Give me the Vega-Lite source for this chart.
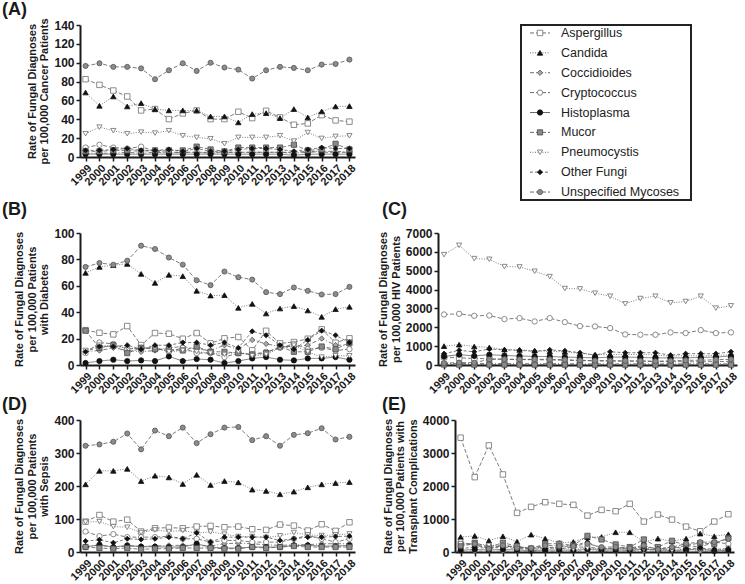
{
"$schema":"https://vega.github.io/schema/vega-lite/v6.json",
"background":"white",
"padding":{"left":2,"top":0,"right":2,"bottom":0},
"config":{
 "font":"Liberation Sans",
 "view":{"stroke":null},
 "legend":{"disable":true},
 "axis":{"grid":false,"domainColor":"#1a1a1a","domainWidth":2,"tickColor":"#1a1a1a","tickWidth":1.5,"tickSize":4,"labelFont":"Liberation Sans","labelFontWeight":"bold","labelFontSize":12,"labelColor":"#1a1a1a","labelPadding":2,"titleFont":"Liberation Sans","titleFontWeight":"bold","titleFontSize":11,"titleColor":"#1a1a1a","titleLineHeight":12.5,"titlePadding":4},
 "title":{"font":"Liberation Sans","fontSize":18,"fontWeight":"bold","color":"#1a1a1a","anchor":"start","frame":"group","offset":0}
},
"datasets":{
"A":[
{"s":"Asp","yr":1999,"v":82.5},{"s":"Asp","yr":2000,"v":76.5},{"s":"Asp","yr":2001,"v":70.5},{"s":"Asp","yr":2002,"v":64.2},{"s":"Asp","yr":2003,"v":49.4},{"s":"Asp","yr":2004,"v":50.8},{"s":"Asp","yr":2005,"v":40.2},{"s":"Asp","yr":2006,"v":46.2},{"s":"Asp","yr":2007,"v":49.4},{"s":"Asp","yr":2008,"v":40.2},{"s":"Asp","yr":2009,"v":40.2},{"s":"Asp","yr":2010,"v":48},{"s":"Asp","yr":2011,"v":41.3},{"s":"Asp","yr":2012,"v":49},{"s":"Asp","yr":2013,"v":42},{"s":"Asp","yr":2014,"v":34.2},{"s":"Asp","yr":2015,"v":35.6},{"s":"Asp","yr":2016,"v":44.4},{"s":"Asp","yr":2017,"v":38.8},{"s":"Asp","yr":2018,"v":37.5},
{"s":"Can","yr":1999,"v":68.4},{"s":"Can","yr":2000,"v":54.3},{"s":"Can","yr":2001,"v":64.2},{"s":"Can","yr":2002,"v":53.6},{"s":"Can","yr":2003,"v":57.1},{"s":"Can","yr":2004,"v":50.8},{"s":"Can","yr":2005,"v":49.4},{"s":"Can","yr":2006,"v":49.4},{"s":"Can","yr":2007,"v":49.4},{"s":"Can","yr":2008,"v":43},{"s":"Can","yr":2009,"v":43},{"s":"Can","yr":2010,"v":36.7},{"s":"Can","yr":2011,"v":45.5},{"s":"Can","yr":2012,"v":46.5},{"s":"Can","yr":2013,"v":41.3},{"s":"Can","yr":2014,"v":50.8},{"s":"Can","yr":2015,"v":42},{"s":"Can","yr":2016,"v":48.3},{"s":"Can","yr":2017,"v":53.6},{"s":"Can","yr":2018,"v":54},
{"s":"Coc","yr":1999,"v":4},{"s":"Coc","yr":2000,"v":4},{"s":"Coc","yr":2001,"v":4},{"s":"Coc","yr":2002,"v":5},{"s":"Coc","yr":2003,"v":4},{"s":"Coc","yr":2004,"v":5},{"s":"Coc","yr":2005,"v":4},{"s":"Coc","yr":2006,"v":5},{"s":"Coc","yr":2007,"v":5},{"s":"Coc","yr":2008,"v":4},{"s":"Coc","yr":2009,"v":5},{"s":"Coc","yr":2010,"v":5},{"s":"Coc","yr":2011,"v":5},{"s":"Coc","yr":2012,"v":5},{"s":"Coc","yr":2013,"v":5},{"s":"Coc","yr":2014,"v":4},{"s":"Coc","yr":2015,"v":5},{"s":"Coc","yr":2016,"v":6},{"s":"Coc","yr":2017,"v":6},{"s":"Coc","yr":2018,"v":5},
{"s":"Cry","yr":1999,"v":10},{"s":"Cry","yr":2000,"v":13},{"s":"Cry","yr":2001,"v":10},{"s":"Cry","yr":2002,"v":9},{"s":"Cry","yr":2003,"v":11},{"s":"Cry","yr":2004,"v":6},{"s":"Cry","yr":2005,"v":5},{"s":"Cry","yr":2006,"v":5},{"s":"Cry","yr":2007,"v":5},{"s":"Cry","yr":2008,"v":5},{"s":"Cry","yr":2009,"v":5},{"s":"Cry","yr":2010,"v":5},{"s":"Cry","yr":2011,"v":5},{"s":"Cry","yr":2012,"v":5},{"s":"Cry","yr":2013,"v":5},{"s":"Cry","yr":2014,"v":5},{"s":"Cry","yr":2015,"v":6},{"s":"Cry","yr":2016,"v":5},{"s":"Cry","yr":2017,"v":5},{"s":"Cry","yr":2018,"v":5},
{"s":"His","yr":1999,"v":3},{"s":"His","yr":2000,"v":3},{"s":"His","yr":2001,"v":3},{"s":"His","yr":2002,"v":3},{"s":"His","yr":2003,"v":3},{"s":"His","yr":2004,"v":3},{"s":"His","yr":2005,"v":3},{"s":"His","yr":2006,"v":3},{"s":"His","yr":2007,"v":3},{"s":"His","yr":2008,"v":3},{"s":"His","yr":2009,"v":3},{"s":"His","yr":2010,"v":3},{"s":"His","yr":2011,"v":3},{"s":"His","yr":2012,"v":3},{"s":"His","yr":2013,"v":3},{"s":"His","yr":2014,"v":2},{"s":"His","yr":2015,"v":3},{"s":"His","yr":2016,"v":3},{"s":"His","yr":2017,"v":3},{"s":"His","yr":2018,"v":3},
{"s":"Muc","yr":1999,"v":6},{"s":"Muc","yr":2000,"v":6},{"s":"Muc","yr":2001,"v":7},{"s":"Muc","yr":2002,"v":7},{"s":"Muc","yr":2003,"v":6},{"s":"Muc","yr":2004,"v":7},{"s":"Muc","yr":2005,"v":7},{"s":"Muc","yr":2006,"v":7},{"s":"Muc","yr":2007,"v":11},{"s":"Muc","yr":2008,"v":8},{"s":"Muc","yr":2009,"v":6},{"s":"Muc","yr":2010,"v":10},{"s":"Muc","yr":2011,"v":10},{"s":"Muc","yr":2012,"v":10},{"s":"Muc","yr":2013,"v":10},{"s":"Muc","yr":2014,"v":13},{"s":"Muc","yr":2015,"v":7},{"s":"Muc","yr":2016,"v":8},{"s":"Muc","yr":2017,"v":14},{"s":"Muc","yr":2018,"v":8},
{"s":"Pne","yr":1999,"v":24.7},{"s":"Pne","yr":2000,"v":31.7},{"s":"Pne","yr":2001,"v":27.9},{"s":"Pne","yr":2002,"v":24.7},{"s":"Pne","yr":2003,"v":26.4},{"s":"Pne","yr":2004,"v":25.4},{"s":"Pne","yr":2005,"v":27.9},{"s":"Pne","yr":2006,"v":22.6},{"s":"Pne","yr":2007,"v":20.8},{"s":"Pne","yr":2008,"v":19.4},{"s":"Pne","yr":2009,"v":14.1},{"s":"Pne","yr":2010,"v":20.8},{"s":"Pne","yr":2011,"v":20.8},{"s":"Pne","yr":2012,"v":20.8},{"s":"Pne","yr":2013,"v":22.6},{"s":"Pne","yr":2014,"v":16.9},{"s":"Pne","yr":2015,"v":26},{"s":"Pne","yr":2016,"v":19.7},{"s":"Pne","yr":2017,"v":21.9},{"s":"Pne","yr":2018,"v":22.5},
{"s":"Oth","yr":1999,"v":7},{"s":"Oth","yr":2000,"v":7},{"s":"Oth","yr":2001,"v":8},{"s":"Oth","yr":2002,"v":9},{"s":"Oth","yr":2003,"v":7},{"s":"Oth","yr":2004,"v":7},{"s":"Oth","yr":2005,"v":8},{"s":"Oth","yr":2006,"v":6},{"s":"Oth","yr":2007,"v":9},{"s":"Oth","yr":2008,"v":6},{"s":"Oth","yr":2009,"v":6},{"s":"Oth","yr":2010,"v":8},{"s":"Oth","yr":2011,"v":9},{"s":"Oth","yr":2012,"v":9},{"s":"Oth","yr":2013,"v":8},{"s":"Oth","yr":2014,"v":6},{"s":"Oth","yr":2015,"v":8},{"s":"Oth","yr":2016,"v":10},{"s":"Oth","yr":2017,"v":9},{"s":"Oth","yr":2018,"v":9},
{"s":"Uns","yr":1999,"v":96.6},{"s":"Uns","yr":2000,"v":99.4},{"s":"Uns","yr":2001,"v":95.6},{"s":"Uns","yr":2002,"v":95.6},{"s":"Uns","yr":2003,"v":94},{"s":"Uns","yr":2004,"v":82.5},{"s":"Uns","yr":2005,"v":92},{"s":"Uns","yr":2006,"v":99.4},{"s":"Uns","yr":2007,"v":91.3},{"s":"Uns","yr":2008,"v":100},{"s":"Uns","yr":2009,"v":94.9},{"s":"Uns","yr":2010,"v":92.7},{"s":"Uns","yr":2011,"v":83.2},{"s":"Uns","yr":2012,"v":92},{"s":"Uns","yr":2013,"v":95.6},{"s":"Uns","yr":2014,"v":94.5},{"s":"Uns","yr":2015,"v":92},{"s":"Uns","yr":2016,"v":98},{"s":"Uns","yr":2017,"v":98.7},{"s":"Uns","yr":2018,"v":103.3}
],
"B":[
{"s":"Asp","yr":1999,"v":26.4},{"s":"Asp","yr":2000,"v":24.4},{"s":"Asp","yr":2001,"v":23.2},{"s":"Asp","yr":2002,"v":29.5},{"s":"Asp","yr":2003,"v":15.1},{"s":"Asp","yr":2004,"v":24.2},{"s":"Asp","yr":2005,"v":23.7},{"s":"Asp","yr":2006,"v":19.9},{"s":"Asp","yr":2007,"v":24.2},{"s":"Asp","yr":2008,"v":16.4},{"s":"Asp","yr":2009,"v":20.2},{"s":"Asp","yr":2010,"v":21.2},{"s":"Asp","yr":2011,"v":11.1},{"s":"Asp","yr":2012,"v":25.9},{"s":"Asp","yr":2013,"v":16.4},{"s":"Asp","yr":2014,"v":17.4},{"s":"Asp","yr":2015,"v":19.9},{"s":"Asp","yr":2016,"v":27},{"s":"Asp","yr":2017,"v":16.9},{"s":"Asp","yr":2018,"v":20.2},
{"s":"Can","yr":1999,"v":69.8},{"s":"Can","yr":2000,"v":74.3},{"s":"Can","yr":2001,"v":75.6},{"s":"Can","yr":2002,"v":76.6},{"s":"Can","yr":2003,"v":69},{"s":"Can","yr":2004,"v":62.2},{"s":"Can","yr":2005,"v":68.3},{"s":"Can","yr":2006,"v":67.3},{"s":"Can","yr":2007,"v":56.2},{"s":"Can","yr":2008,"v":52.6},{"s":"Can","yr":2009,"v":52.9},{"s":"Can","yr":2010,"v":43.3},{"s":"Can","yr":2011,"v":46.3},{"s":"Can","yr":2012,"v":39},{"s":"Can","yr":2013,"v":42.8},{"s":"Can","yr":2014,"v":44.6},{"s":"Can","yr":2015,"v":41.3},{"s":"Can","yr":2016,"v":36.5},{"s":"Can","yr":2017,"v":42.3},{"s":"Can","yr":2018,"v":44.1},
{"s":"Coc","yr":1999,"v":10},{"s":"Coc","yr":2000,"v":11},{"s":"Coc","yr":2001,"v":13},{"s":"Coc","yr":2002,"v":11},{"s":"Coc","yr":2003,"v":10},{"s":"Coc","yr":2004,"v":11},{"s":"Coc","yr":2005,"v":13},{"s":"Coc","yr":2006,"v":14},{"s":"Coc","yr":2007,"v":12},{"s":"Coc","yr":2008,"v":11},{"s":"Coc","yr":2009,"v":15},{"s":"Coc","yr":2010,"v":12},{"s":"Coc","yr":2011,"v":19},{"s":"Coc","yr":2012,"v":16},{"s":"Coc","yr":2013,"v":14},{"s":"Coc","yr":2014,"v":14},{"s":"Coc","yr":2015,"v":15},{"s":"Coc","yr":2016,"v":20},{"s":"Coc","yr":2017,"v":15},{"s":"Coc","yr":2018,"v":15},
{"s":"Cry","yr":1999,"v":9},{"s":"Cry","yr":2000,"v":17},{"s":"Cry","yr":2001,"v":16},{"s":"Cry","yr":2002,"v":12},{"s":"Cry","yr":2003,"v":13},{"s":"Cry","yr":2004,"v":13},{"s":"Cry","yr":2005,"v":10},{"s":"Cry","yr":2006,"v":13},{"s":"Cry","yr":2007,"v":9},{"s":"Cry","yr":2008,"v":9},{"s":"Cry","yr":2009,"v":6},{"s":"Cry","yr":2010,"v":9},{"s":"Cry","yr":2011,"v":8},{"s":"Cry","yr":2012,"v":10},{"s":"Cry","yr":2013,"v":13},{"s":"Cry","yr":2014,"v":16},{"s":"Cry","yr":2015,"v":12},{"s":"Cry","yr":2016,"v":13},{"s":"Cry","yr":2017,"v":11},{"s":"Cry","yr":2018,"v":12},
{"s":"His","yr":1999,"v":1.5},{"s":"His","yr":2000,"v":3},{"s":"His","yr":2001,"v":4},{"s":"His","yr":2002,"v":3},{"s":"His","yr":2003,"v":3.5},{"s":"His","yr":2004,"v":3},{"s":"His","yr":2005,"v":6.5},{"s":"His","yr":2006,"v":3},{"s":"His","yr":2007,"v":4.5},{"s":"His","yr":2008,"v":4},{"s":"His","yr":2009,"v":1.5},{"s":"His","yr":2010,"v":3},{"s":"His","yr":2011,"v":5},{"s":"His","yr":2012,"v":6},{"s":"His","yr":2013,"v":4},{"s":"His","yr":2014,"v":3.5},{"s":"His","yr":2015,"v":5},{"s":"His","yr":2016,"v":5},{"s":"His","yr":2017,"v":6},{"s":"His","yr":2018,"v":4},
{"s":"Muc","yr":1999,"v":26},{"s":"Muc","yr":2000,"v":13},{"s":"Muc","yr":2001,"v":15},{"s":"Muc","yr":2002,"v":9},{"s":"Muc","yr":2003,"v":13},{"s":"Muc","yr":2004,"v":12},{"s":"Muc","yr":2005,"v":12},{"s":"Muc","yr":2006,"v":11},{"s":"Muc","yr":2007,"v":14},{"s":"Muc","yr":2008,"v":10},{"s":"Muc","yr":2009,"v":10},{"s":"Muc","yr":2010,"v":9},{"s":"Muc","yr":2011,"v":8},{"s":"Muc","yr":2012,"v":9},{"s":"Muc","yr":2013,"v":14},{"s":"Muc","yr":2014,"v":10},{"s":"Muc","yr":2015,"v":10},{"s":"Muc","yr":2016,"v":14},{"s":"Muc","yr":2017,"v":12},{"s":"Muc","yr":2018,"v":17},
{"s":"Pne","yr":1999,"v":11},{"s":"Pne","yr":2000,"v":15},{"s":"Pne","yr":2001,"v":14},{"s":"Pne","yr":2002,"v":13},{"s":"Pne","yr":2003,"v":12},{"s":"Pne","yr":2004,"v":13},{"s":"Pne","yr":2005,"v":10},{"s":"Pne","yr":2006,"v":11},{"s":"Pne","yr":2007,"v":10},{"s":"Pne","yr":2008,"v":9},{"s":"Pne","yr":2009,"v":8},{"s":"Pne","yr":2010,"v":10},{"s":"Pne","yr":2011,"v":7},{"s":"Pne","yr":2012,"v":8},{"s":"Pne","yr":2013,"v":13},{"s":"Pne","yr":2014,"v":15},{"s":"Pne","yr":2015,"v":10},{"s":"Pne","yr":2016,"v":6},{"s":"Pne","yr":2017,"v":7},{"s":"Pne","yr":2018,"v":7},
{"s":"Oth","yr":1999,"v":10},{"s":"Oth","yr":2000,"v":14},{"s":"Oth","yr":2001,"v":14},{"s":"Oth","yr":2002,"v":15},{"s":"Oth","yr":2003,"v":12},{"s":"Oth","yr":2004,"v":15},{"s":"Oth","yr":2005,"v":15},{"s":"Oth","yr":2006,"v":17},{"s":"Oth","yr":2007,"v":17},{"s":"Oth","yr":2008,"v":15},{"s":"Oth","yr":2009,"v":17},{"s":"Oth","yr":2010,"v":13},{"s":"Oth","yr":2011,"v":25.5},{"s":"Oth","yr":2012,"v":22.5},{"s":"Oth","yr":2013,"v":15},{"s":"Oth","yr":2014,"v":12},{"s":"Oth","yr":2015,"v":19},{"s":"Oth","yr":2016,"v":26},{"s":"Oth","yr":2017,"v":22.5},{"s":"Oth","yr":2018,"v":17},
{"s":"Uns","yr":1999,"v":74.3},{"s":"Uns","yr":2000,"v":77.3},{"s":"Uns","yr":2001,"v":76},{"s":"Uns","yr":2002,"v":79},{"s":"Uns","yr":2003,"v":90.4},{"s":"Uns","yr":2004,"v":87.9},{"s":"Uns","yr":2005,"v":81.4},{"s":"Uns","yr":2006,"v":76},{"s":"Uns","yr":2007,"v":64.2},{"s":"Uns","yr":2008,"v":60.5},{"s":"Uns","yr":2009,"v":70.8},{"s":"Uns","yr":2010,"v":66.5},{"s":"Uns","yr":2011,"v":64.7},{"s":"Uns","yr":2012,"v":55.2},{"s":"Uns","yr":2013,"v":53.7},{"s":"Uns","yr":2014,"v":58.7},{"s":"Uns","yr":2015,"v":56.2},{"s":"Uns","yr":2016,"v":53.4},{"s":"Uns","yr":2017,"v":53.7},{"s":"Uns","yr":2018,"v":59.2}
],
"C":[
{"s":"Asp","yr":1999,"v":420},{"s":"Asp","yr":2000,"v":380},{"s":"Asp","yr":2001,"v":350},{"s":"Asp","yr":2002,"v":330},{"s":"Asp","yr":2003,"v":300},{"s":"Asp","yr":2004,"v":290},{"s":"Asp","yr":2005,"v":280},{"s":"Asp","yr":2006,"v":270},{"s":"Asp","yr":2007,"v":250},{"s":"Asp","yr":2008,"v":230},{"s":"Asp","yr":2009,"v":220},{"s":"Asp","yr":2010,"v":210},{"s":"Asp","yr":2011,"v":200},{"s":"Asp","yr":2012,"v":200},{"s":"Asp","yr":2013,"v":180},{"s":"Asp","yr":2014,"v":180},{"s":"Asp","yr":2015,"v":170},{"s":"Asp","yr":2016,"v":170},{"s":"Asp","yr":2017,"v":180},{"s":"Asp","yr":2018,"v":180},
{"s":"Can","yr":1999,"v":1000},{"s":"Can","yr":2000,"v":1080},{"s":"Can","yr":2001,"v":980},{"s":"Can","yr":2002,"v":930},{"s":"Can","yr":2003,"v":820},{"s":"Can","yr":2004,"v":800},{"s":"Can","yr":2005,"v":760},{"s":"Can","yr":2006,"v":720},{"s":"Can","yr":2007,"v":700},{"s":"Can","yr":2008,"v":620},{"s":"Can","yr":2009,"v":540},{"s":"Can","yr":2010,"v":560},{"s":"Can","yr":2011,"v":560},{"s":"Can","yr":2012,"v":560},{"s":"Can","yr":2013,"v":530},{"s":"Can","yr":2014,"v":470},{"s":"Can","yr":2015,"v":500},{"s":"Can","yr":2016,"v":470},{"s":"Can","yr":2017,"v":520},{"s":"Can","yr":2018,"v":520},
{"s":"Coc","yr":1999,"v":80},{"s":"Coc","yr":2000,"v":80},{"s":"Coc","yr":2001,"v":80},{"s":"Coc","yr":2002,"v":80},{"s":"Coc","yr":2003,"v":80},{"s":"Coc","yr":2004,"v":70},{"s":"Coc","yr":2005,"v":70},{"s":"Coc","yr":2006,"v":70},{"s":"Coc","yr":2007,"v":70},{"s":"Coc","yr":2008,"v":60},{"s":"Coc","yr":2009,"v":60},{"s":"Coc","yr":2010,"v":60},{"s":"Coc","yr":2011,"v":60},{"s":"Coc","yr":2012,"v":60},{"s":"Coc","yr":2013,"v":60},{"s":"Coc","yr":2014,"v":60},{"s":"Coc","yr":2015,"v":60},{"s":"Coc","yr":2016,"v":60},{"s":"Coc","yr":2017,"v":60},{"s":"Coc","yr":2018,"v":60},
{"s":"Cry","yr":1999,"v":2680},{"s":"Cry","yr":2000,"v":2715},{"s":"Cry","yr":2001,"v":2609},{"s":"Cry","yr":2002,"v":2627},{"s":"Cry","yr":2003,"v":2433},{"s":"Cry","yr":2004,"v":2486},{"s":"Cry","yr":2005,"v":2310},{"s":"Cry","yr":2006,"v":2486},{"s":"Cry","yr":2007,"v":2274},{"s":"Cry","yr":2008,"v":2063},{"s":"Cry","yr":2009,"v":2045},{"s":"Cry","yr":2010,"v":1957},{"s":"Cry","yr":2011,"v":1622},{"s":"Cry","yr":2012,"v":1604},{"s":"Cry","yr":2013,"v":1604},{"s":"Cry","yr":2014,"v":1728},{"s":"Cry","yr":2015,"v":1692},{"s":"Cry","yr":2016,"v":1851},{"s":"Cry","yr":2017,"v":1692},{"s":"Cry","yr":2018,"v":1728},
{"s":"His","yr":1999,"v":450},{"s":"His","yr":2000,"v":550},{"s":"His","yr":2001,"v":480},{"s":"His","yr":2002,"v":550},{"s":"His","yr":2003,"v":500},{"s":"His","yr":2004,"v":480},{"s":"His","yr":2005,"v":450},{"s":"His","yr":2006,"v":450},{"s":"His","yr":2007,"v":420},{"s":"His","yr":2008,"v":400},{"s":"His","yr":2009,"v":380},{"s":"His","yr":2010,"v":420},{"s":"His","yr":2011,"v":420},{"s":"His","yr":2012,"v":400},{"s":"His","yr":2013,"v":380},{"s":"His","yr":2014,"v":380},{"s":"His","yr":2015,"v":380},{"s":"His","yr":2016,"v":400},{"s":"His","yr":2017,"v":420},{"s":"His","yr":2018,"v":480},
{"s":"Muc","yr":1999,"v":25},{"s":"Muc","yr":2000,"v":22},{"s":"Muc","yr":2001,"v":20},{"s":"Muc","yr":2002,"v":22},{"s":"Muc","yr":2003,"v":20},{"s":"Muc","yr":2004,"v":18},{"s":"Muc","yr":2005,"v":20},{"s":"Muc","yr":2006,"v":18},{"s":"Muc","yr":2007,"v":18},{"s":"Muc","yr":2008,"v":17},{"s":"Muc","yr":2009,"v":16},{"s":"Muc","yr":2010,"v":18},{"s":"Muc","yr":2011,"v":17},{"s":"Muc","yr":2012,"v":16},{"s":"Muc","yr":2013,"v":15},{"s":"Muc","yr":2014,"v":16},{"s":"Muc","yr":2015,"v":15},{"s":"Muc","yr":2016,"v":17},{"s":"Muc","yr":2017,"v":16},{"s":"Muc","yr":2018,"v":18},
{"s":"Pne","yr":1999,"v":5853},{"s":"Pne","yr":2000,"v":6347},{"s":"Pne","yr":2001,"v":5642},{"s":"Pne","yr":2002,"v":5606},{"s":"Pne","yr":2003,"v":5218},{"s":"Pne","yr":2004,"v":5201},{"s":"Pne","yr":2005,"v":4972},{"s":"Pne","yr":2006,"v":4690},{"s":"Pne","yr":2007,"v":4055},{"s":"Pne","yr":2008,"v":4037},{"s":"Pne","yr":2009,"v":3808},{"s":"Pne","yr":2010,"v":3649},{"s":"Pne","yr":2011,"v":3244},{"s":"Pne","yr":2012,"v":3526},{"s":"Pne","yr":2013,"v":3649},{"s":"Pne","yr":2014,"v":3297},{"s":"Pne","yr":2015,"v":3367},{"s":"Pne","yr":2016,"v":3649},{"s":"Pne","yr":2017,"v":3015},{"s":"Pne","yr":2018,"v":3138},
{"s":"Oth","yr":1999,"v":600},{"s":"Oth","yr":2000,"v":780},{"s":"Oth","yr":2001,"v":700},{"s":"Oth","yr":2002,"v":850},{"s":"Oth","yr":2003,"v":800},{"s":"Oth","yr":2004,"v":780},{"s":"Oth","yr":2005,"v":720},{"s":"Oth","yr":2006,"v":800},{"s":"Oth","yr":2007,"v":750},{"s":"Oth","yr":2008,"v":650},{"s":"Oth","yr":2009,"v":520},{"s":"Oth","yr":2010,"v":700},{"s":"Oth","yr":2011,"v":650},{"s":"Oth","yr":2012,"v":650},{"s":"Oth","yr":2013,"v":650},{"s":"Oth","yr":2014,"v":520},{"s":"Oth","yr":2015,"v":600},{"s":"Oth","yr":2016,"v":600},{"s":"Oth","yr":2017,"v":600},{"s":"Oth","yr":2018,"v":700},
{"s":"Uns","yr":1999,"v":100},{"s":"Uns","yr":2000,"v":130},{"s":"Uns","yr":2001,"v":120},{"s":"Uns","yr":2002,"v":300},{"s":"Uns","yr":2003,"v":310},{"s":"Uns","yr":2004,"v":300},{"s":"Uns","yr":2005,"v":300},{"s":"Uns","yr":2006,"v":300},{"s":"Uns","yr":2007,"v":280},{"s":"Uns","yr":2008,"v":250},{"s":"Uns","yr":2009,"v":230},{"s":"Uns","yr":2010,"v":230},{"s":"Uns","yr":2011,"v":220},{"s":"Uns","yr":2012,"v":220},{"s":"Uns","yr":2013,"v":200},{"s":"Uns","yr":2014,"v":220},{"s":"Uns","yr":2015,"v":250},{"s":"Uns","yr":2016,"v":250},{"s":"Uns","yr":2017,"v":280},{"s":"Uns","yr":2018,"v":300}
],
"D":[
{"s":"Asp","yr":1999,"v":92},{"s":"Asp","yr":2000,"v":112},{"s":"Asp","yr":2001,"v":92},{"s":"Asp","yr":2002,"v":98},{"s":"Asp","yr":2003,"v":62},{"s":"Asp","yr":2004,"v":72},{"s":"Asp","yr":2005,"v":74},{"s":"Asp","yr":2006,"v":72},{"s":"Asp","yr":2007,"v":77},{"s":"Asp","yr":2008,"v":79},{"s":"Asp","yr":2009,"v":75},{"s":"Asp","yr":2010,"v":77},{"s":"Asp","yr":2011,"v":69},{"s":"Asp","yr":2012,"v":67},{"s":"Asp","yr":2013,"v":83},{"s":"Asp","yr":2014,"v":80},{"s":"Asp","yr":2015,"v":65},{"s":"Asp","yr":2016,"v":84},{"s":"Asp","yr":2017,"v":64},{"s":"Asp","yr":2018,"v":90},
{"s":"Can","yr":1999,"v":205},{"s":"Can","yr":2000,"v":246},{"s":"Can","yr":2001,"v":246},{"s":"Can","yr":2002,"v":252},{"s":"Can","yr":2003,"v":215},{"s":"Can","yr":2004,"v":231},{"s":"Can","yr":2005,"v":226},{"s":"Can","yr":2006,"v":206},{"s":"Can","yr":2007,"v":234},{"s":"Can","yr":2008,"v":203},{"s":"Can","yr":2009,"v":215},{"s":"Can","yr":2010,"v":211},{"s":"Can","yr":2011,"v":189},{"s":"Can","yr":2012,"v":185},{"s":"Can","yr":2013,"v":175},{"s":"Can","yr":2014,"v":183},{"s":"Can","yr":2015,"v":196},{"s":"Can","yr":2016,"v":205},{"s":"Can","yr":2017,"v":209},{"s":"Can","yr":2018,"v":212},
{"s":"Coc","yr":1999,"v":17},{"s":"Coc","yr":2000,"v":20},{"s":"Coc","yr":2001,"v":15},{"s":"Coc","yr":2002,"v":18},{"s":"Coc","yr":2003,"v":18},{"s":"Coc","yr":2004,"v":18},{"s":"Coc","yr":2005,"v":20},{"s":"Coc","yr":2006,"v":20},{"s":"Coc","yr":2007,"v":20},{"s":"Coc","yr":2008,"v":18},{"s":"Coc","yr":2009,"v":25},{"s":"Coc","yr":2010,"v":27},{"s":"Coc","yr":2011,"v":25},{"s":"Coc","yr":2012,"v":22},{"s":"Coc","yr":2013,"v":20},{"s":"Coc","yr":2014,"v":22},{"s":"Coc","yr":2015,"v":22},{"s":"Coc","yr":2016,"v":25},{"s":"Coc","yr":2017,"v":25},{"s":"Coc","yr":2018,"v":25},
{"s":"Cry","yr":1999,"v":62},{"s":"Cry","yr":2000,"v":48},{"s":"Cry","yr":2001,"v":54},{"s":"Cry","yr":2002,"v":45},{"s":"Cry","yr":2003,"v":45},{"s":"Cry","yr":2004,"v":45},{"s":"Cry","yr":2005,"v":48},{"s":"Cry","yr":2006,"v":40},{"s":"Cry","yr":2007,"v":40},{"s":"Cry","yr":2008,"v":30},{"s":"Cry","yr":2009,"v":35},{"s":"Cry","yr":2010,"v":35},{"s":"Cry","yr":2011,"v":30},{"s":"Cry","yr":2012,"v":30},{"s":"Cry","yr":2013,"v":30},{"s":"Cry","yr":2014,"v":40},{"s":"Cry","yr":2015,"v":50},{"s":"Cry","yr":2016,"v":40},{"s":"Cry","yr":2017,"v":30},{"s":"Cry","yr":2018,"v":40},
{"s":"His","yr":1999,"v":15},{"s":"His","yr":2000,"v":22},{"s":"His","yr":2001,"v":15},{"s":"His","yr":2002,"v":20},{"s":"His","yr":2003,"v":16},{"s":"His","yr":2004,"v":16},{"s":"His","yr":2005,"v":15},{"s":"His","yr":2006,"v":15},{"s":"His","yr":2007,"v":25},{"s":"His","yr":2008,"v":15},{"s":"His","yr":2009,"v":12},{"s":"His","yr":2010,"v":12},{"s":"His","yr":2011,"v":15},{"s":"His","yr":2012,"v":15},{"s":"His","yr":2013,"v":15},{"s":"His","yr":2014,"v":20},{"s":"His","yr":2015,"v":20},{"s":"His","yr":2016,"v":18},{"s":"His","yr":2017,"v":18},{"s":"His","yr":2018,"v":20},
{"s":"Muc","yr":1999,"v":15},{"s":"Muc","yr":2000,"v":12},{"s":"Muc","yr":2001,"v":10},{"s":"Muc","yr":2002,"v":12},{"s":"Muc","yr":2003,"v":8},{"s":"Muc","yr":2004,"v":10},{"s":"Muc","yr":2005,"v":10},{"s":"Muc","yr":2006,"v":12},{"s":"Muc","yr":2007,"v":12},{"s":"Muc","yr":2008,"v":12},{"s":"Muc","yr":2009,"v":10},{"s":"Muc","yr":2010,"v":10},{"s":"Muc","yr":2011,"v":15},{"s":"Muc","yr":2012,"v":12},{"s":"Muc","yr":2013,"v":15},{"s":"Muc","yr":2014,"v":18},{"s":"Muc","yr":2015,"v":15},{"s":"Muc","yr":2016,"v":15},{"s":"Muc","yr":2017,"v":15},{"s":"Muc","yr":2018,"v":15},
{"s":"Pne","yr":1999,"v":91},{"s":"Pne","yr":2000,"v":92},{"s":"Pne","yr":2001,"v":77},{"s":"Pne","yr":2002,"v":75},{"s":"Pne","yr":2003,"v":59},{"s":"Pne","yr":2004,"v":67},{"s":"Pne","yr":2005,"v":62},{"s":"Pne","yr":2006,"v":65},{"s":"Pne","yr":2007,"v":57},{"s":"Pne","yr":2008,"v":61},{"s":"Pne","yr":2009,"v":54},{"s":"Pne","yr":2010,"v":47},{"s":"Pne","yr":2011,"v":47},{"s":"Pne","yr":2012,"v":44},{"s":"Pne","yr":2013,"v":49},{"s":"Pne","yr":2014,"v":59},{"s":"Pne","yr":2015,"v":52},{"s":"Pne","yr":2016,"v":50},{"s":"Pne","yr":2017,"v":52},{"s":"Pne","yr":2018,"v":55},
{"s":"Oth","yr":1999,"v":33},{"s":"Oth","yr":2000,"v":37},{"s":"Oth","yr":2001,"v":28},{"s":"Oth","yr":2002,"v":40},{"s":"Oth","yr":2003,"v":38},{"s":"Oth","yr":2004,"v":40},{"s":"Oth","yr":2005,"v":45},{"s":"Oth","yr":2006,"v":40},{"s":"Oth","yr":2007,"v":58},{"s":"Oth","yr":2008,"v":30},{"s":"Oth","yr":2009,"v":45},{"s":"Oth","yr":2010,"v":45},{"s":"Oth","yr":2011,"v":45},{"s":"Oth","yr":2012,"v":45},{"s":"Oth","yr":2013,"v":35},{"s":"Oth","yr":2014,"v":40},{"s":"Oth","yr":2015,"v":45},{"s":"Oth","yr":2016,"v":45},{"s":"Oth","yr":2017,"v":47},{"s":"Oth","yr":2018,"v":48},
{"s":"Uns","yr":1999,"v":322},{"s":"Uns","yr":2000,"v":326},{"s":"Uns","yr":2001,"v":334},{"s":"Uns","yr":2002,"v":359},{"s":"Uns","yr":2003,"v":311},{"s":"Uns","yr":2004,"v":368},{"s":"Uns","yr":2005,"v":351},{"s":"Uns","yr":2006,"v":377},{"s":"Uns","yr":2007,"v":330},{"s":"Uns","yr":2008,"v":357},{"s":"Uns","yr":2009,"v":377},{"s":"Uns","yr":2010,"v":379},{"s":"Uns","yr":2011,"v":339},{"s":"Uns","yr":2012,"v":351},{"s":"Uns","yr":2013,"v":322},{"s":"Uns","yr":2014,"v":355},{"s":"Uns","yr":2015,"v":360},{"s":"Uns","yr":2016,"v":375},{"s":"Uns","yr":2017,"v":341},{"s":"Uns","yr":2018,"v":349}
],
"E":[
{"s":"Asp","yr":1999,"v":3464},{"s":"Asp","yr":2000,"v":2269},{"s":"Asp","yr":2001,"v":3231},{"s":"Asp","yr":2002,"v":2350},{"s":"Asp","yr":2003,"v":1185},{"s":"Asp","yr":2004,"v":1367},{"s":"Asp","yr":2005,"v":1509},{"s":"Asp","yr":2006,"v":1459},{"s":"Asp","yr":2007,"v":1428},{"s":"Asp","yr":2008,"v":1104},{"s":"Asp","yr":2009,"v":1276},{"s":"Asp","yr":2010,"v":1236},{"s":"Asp","yr":2011,"v":1459},{"s":"Asp","yr":2012,"v":922},{"s":"Asp","yr":2013,"v":1135},{"s":"Asp","yr":2014,"v":982},{"s":"Asp","yr":2015,"v":770},{"s":"Asp","yr":2016,"v":628},{"s":"Asp","yr":2017,"v":922},{"s":"Asp","yr":2018,"v":1145},
{"s":"Can","yr":1999,"v":456},{"s":"Can","yr":2000,"v":486},{"s":"Can","yr":2001,"v":344},{"s":"Can","yr":2002,"v":476},{"s":"Can","yr":2003,"v":314},{"s":"Can","yr":2004,"v":527},{"s":"Can","yr":2005,"v":405},{"s":"Can","yr":2006,"v":273},{"s":"Can","yr":2007,"v":304},{"s":"Can","yr":2008,"v":446},{"s":"Can","yr":2009,"v":456},{"s":"Can","yr":2010,"v":598},{"s":"Can","yr":2011,"v":598},{"s":"Can","yr":2012,"v":304},{"s":"Can","yr":2013,"v":405},{"s":"Can","yr":2014,"v":324},{"s":"Can","yr":2015,"v":405},{"s":"Can","yr":2016,"v":557},{"s":"Can","yr":2017,"v":476},{"s":"Can","yr":2018,"v":537},
{"s":"Coc","yr":1999,"v":20},{"s":"Coc","yr":2000,"v":30},{"s":"Coc","yr":2001,"v":20},{"s":"Coc","yr":2002,"v":30},{"s":"Coc","yr":2003,"v":20},{"s":"Coc","yr":2004,"v":20},{"s":"Coc","yr":2005,"v":30},{"s":"Coc","yr":2006,"v":20},{"s":"Coc","yr":2007,"v":20},{"s":"Coc","yr":2008,"v":30},{"s":"Coc","yr":2009,"v":20},{"s":"Coc","yr":2010,"v":20},{"s":"Coc","yr":2011,"v":30},{"s":"Coc","yr":2012,"v":30},{"s":"Coc","yr":2013,"v":20},{"s":"Coc","yr":2014,"v":20},{"s":"Coc","yr":2015,"v":30},{"s":"Coc","yr":2016,"v":20},{"s":"Coc","yr":2017,"v":20},{"s":"Coc","yr":2018,"v":30},
{"s":"Cry","yr":1999,"v":300},{"s":"Cry","yr":2000,"v":200},{"s":"Cry","yr":2001,"v":130},{"s":"Cry","yr":2002,"v":200},{"s":"Cry","yr":2003,"v":150},{"s":"Cry","yr":2004,"v":100},{"s":"Cry","yr":2005,"v":150},{"s":"Cry","yr":2006,"v":100},{"s":"Cry","yr":2007,"v":150},{"s":"Cry","yr":2008,"v":150},{"s":"Cry","yr":2009,"v":100},{"s":"Cry","yr":2010,"v":100},{"s":"Cry","yr":2011,"v":100},{"s":"Cry","yr":2012,"v":100},{"s":"Cry","yr":2013,"v":80},{"s":"Cry","yr":2014,"v":100},{"s":"Cry","yr":2015,"v":200},{"s":"Cry","yr":2016,"v":150},{"s":"Cry","yr":2017,"v":300},{"s":"Cry","yr":2018,"v":250},
{"s":"His","yr":1999,"v":50},{"s":"His","yr":2000,"v":80},{"s":"His","yr":2001,"v":60},{"s":"His","yr":2002,"v":80},{"s":"His","yr":2003,"v":60},{"s":"His","yr":2004,"v":40},{"s":"His","yr":2005,"v":60},{"s":"His","yr":2006,"v":60},{"s":"His","yr":2007,"v":50},{"s":"His","yr":2008,"v":80},{"s":"His","yr":2009,"v":60},{"s":"His","yr":2010,"v":60},{"s":"His","yr":2011,"v":50},{"s":"His","yr":2012,"v":80},{"s":"His","yr":2013,"v":60},{"s":"His","yr":2014,"v":50},{"s":"His","yr":2015,"v":60},{"s":"His","yr":2016,"v":100},{"s":"His","yr":2017,"v":30},{"s":"His","yr":2018,"v":60},
{"s":"Muc","yr":1999,"v":200},{"s":"Muc","yr":2000,"v":280},{"s":"Muc","yr":2001,"v":150},{"s":"Muc","yr":2002,"v":280},{"s":"Muc","yr":2003,"v":180},{"s":"Muc","yr":2004,"v":100},{"s":"Muc","yr":2005,"v":250},{"s":"Muc","yr":2006,"v":250},{"s":"Muc","yr":2007,"v":200},{"s":"Muc","yr":2008,"v":490},{"s":"Muc","yr":2009,"v":380},{"s":"Muc","yr":2010,"v":230},{"s":"Muc","yr":2011,"v":150},{"s":"Muc","yr":2012,"v":380},{"s":"Muc","yr":2013,"v":150},{"s":"Muc","yr":2014,"v":340},{"s":"Muc","yr":2015,"v":200},{"s":"Muc","yr":2016,"v":270},{"s":"Muc","yr":2017,"v":250},{"s":"Muc","yr":2018,"v":420},
{"s":"Pne","yr":1999,"v":250},{"s":"Pne","yr":2000,"v":250},{"s":"Pne","yr":2001,"v":200},{"s":"Pne","yr":2002,"v":200},{"s":"Pne","yr":2003,"v":150},{"s":"Pne","yr":2004,"v":120},{"s":"Pne","yr":2005,"v":120},{"s":"Pne","yr":2006,"v":120},{"s":"Pne","yr":2007,"v":80},{"s":"Pne","yr":2008,"v":120},{"s":"Pne","yr":2009,"v":80},{"s":"Pne","yr":2010,"v":100},{"s":"Pne","yr":2011,"v":80},{"s":"Pne","yr":2012,"v":80},{"s":"Pne","yr":2013,"v":60},{"s":"Pne","yr":2014,"v":50},{"s":"Pne","yr":2015,"v":80},{"s":"Pne","yr":2016,"v":50},{"s":"Pne","yr":2017,"v":60},{"s":"Pne","yr":2018,"v":100},
{"s":"Oth","yr":1999,"v":100},{"s":"Oth","yr":2000,"v":150},{"s":"Oth","yr":2001,"v":100},{"s":"Oth","yr":2002,"v":150},{"s":"Oth","yr":2003,"v":100},{"s":"Oth","yr":2004,"v":80},{"s":"Oth","yr":2005,"v":100},{"s":"Oth","yr":2006,"v":150},{"s":"Oth","yr":2007,"v":200},{"s":"Oth","yr":2008,"v":300},{"s":"Oth","yr":2009,"v":100},{"s":"Oth","yr":2010,"v":120},{"s":"Oth","yr":2011,"v":120},{"s":"Oth","yr":2012,"v":150},{"s":"Oth","yr":2013,"v":100},{"s":"Oth","yr":2014,"v":150},{"s":"Oth","yr":2015,"v":100},{"s":"Oth","yr":2016,"v":120},{"s":"Oth","yr":2017,"v":80},{"s":"Oth","yr":2018,"v":100},
{"s":"Uns","yr":1999,"v":180},{"s":"Uns","yr":2000,"v":250},{"s":"Uns","yr":2001,"v":100},{"s":"Uns","yr":2002,"v":200},{"s":"Uns","yr":2003,"v":120},{"s":"Uns","yr":2004,"v":120},{"s":"Uns","yr":2005,"v":200},{"s":"Uns","yr":2006,"v":180},{"s":"Uns","yr":2007,"v":180},{"s":"Uns","yr":2008,"v":250},{"s":"Uns","yr":2009,"v":150},{"s":"Uns","yr":2010,"v":150},{"s":"Uns","yr":2011,"v":120},{"s":"Uns","yr":2012,"v":200},{"s":"Uns","yr":2013,"v":80},{"s":"Uns","yr":2014,"v":150},{"s":"Uns","yr":2015,"v":250},{"s":"Uns","yr":2016,"v":300},{"s":"Uns","yr":2017,"v":300},{"s":"Uns","yr":2018,"v":400}
],
"L":[
{"s":"Asp","name":"Aspergillus"},{"s":"Can","name":"Candida"},{"s":"Coc","name":"Coccidioides"},{"s":"Cry","name":"Cryptococcus"},{"s":"His","name":"Histoplasma"},{"s":"Muc","name":"Mucor"},{"s":"Pne","name":"Pneumocystis"},{"s":"Oth","name":"Other Fungi"},{"s":"Uns","name":"Unspecified Mycoses"}
]
},
"spacing":0,
"vconcat":[
{"spacing":162,"hconcat":[
 {"width":275,"height":132,"title":{"text":"(A)","dx":-78,"offset":-1},"data":{"name":"A"},
  "encoding":{
   "x":{"field":"yr","type":"quantitative","scale":{"domain":[1998.6,2018.4],"nice":false,"zero":false},"axis":{"values":[1999,2000,2001,2002,2003,2004,2005,2006,2007,2008,2009,2010,2011,2012,2013,2014,2015,2016,2017,2018],"format":"d","title":null,"labelAngle":-45,"labelAlign":"right","labelBaseline":"top","labelPadding":1,"labelOverlap":false,"labelFontSize":11,"labelBound":false}},
   "y":{"field":"v","type":"quantitative","scale":{"domain":[0,140],"nice":false},"axis":{"values":[0,20,40,60,80,100,120,140],"format":"d","title":["Rate of Fungal Diagnoses","per 100,000 Cancer Patients"]}}},
  "layer":[
   {"mark":{"type":"line","strokeWidth":0.8,"color":"#5a5a5a"},"encoding":{"strokeDash":{"field":"s","type":"nominal","scale":{"domain":["Asp","Can","Coc","Cry","His","Muc","Pne","Oth","Uns"],"range":[[4,2],[1,1.5],[4,2,1,2],[4,2],[1,0],[4,2],[1,1.5],[3,2],[4,2]]},"legend":null}}},
   {"mark":{"type":"point","filled":true,"opacity":1,"strokeWidth":0.8},"encoding":{
     "shape":{"field":"s","type":"nominal","scale":{"domain":["Asp","Can","Coc","Cry","His","Muc","Pne","Oth","Uns"],"range":["square","triangle-up","diamond","circle","circle","square","triangle-down","diamond","circle"]},"legend":null},
     "fill":{"field":"s","type":"nominal","scale":{"domain":["Asp","Can","Coc","Cry","His","Muc","Pne","Oth","Uns"],"range":["#ffffff","#111111","#a8a8a8","#ffffff","#111111","#8a8a8a","#ffffff","#111111","#8c8c8c"]},"legend":null},
     "stroke":{"field":"s","type":"nominal","scale":{"domain":["Asp","Can","Coc","Cry","His","Muc","Pne","Oth","Uns"],"range":["#6e6e6e","#111111","#505050","#6e6e6e","#111111","#4a4a4a","#6e6e6e","#111111","#555555"]},"legend":null},
     "size":{"field":"s","type":"ordinal","scale":{"domain":["Asp","Can","Coc","Cry","His","Muc","Pne","Oth","Uns"],"range":[30,26,30,26,30,36,30,18,32]},"legend":null}}}
  ]},
 {"width":170,"height":175,"view":{"stroke":"#222222","strokeWidth":2},"data":{"name":"L"},
  "encoding":{"y":{"field":"s","type":"nominal","scale":{"type":"point","domain":["Asp","Can","Coc","Cry","His","Muc","Pne","Oth","Uns"],"padding":0.4},"axis":null}},
  "layer":[
   {"mark":{"type":"rule","strokeWidth":0.9,"color":"#5a5a5a"},"encoding":{"x":{"datum":0,"type":"quantitative","scale":{"domain":[-0.45,8.05],"nice":false,"zero":false},"axis":null},"x2":{"datum":1},"strokeDash":{"field":"s","type":"nominal","scale":{"domain":["Asp","Can","Coc","Cry","His","Muc","Pne","Oth","Uns"],"range":[[4,2],[1,1.5],[4,2,1,2],[4,2],[1,0],[4,2],[1,1.5],[3,2],[4,2]]},"legend":null}}},
   {"mark":{"type":"point","filled":true,"opacity":1,"strokeWidth":0.8},"encoding":{"x":{"datum":0.5,"type":"quantitative"},
     "shape":{"field":"s","type":"nominal","scale":{"domain":["Asp","Can","Coc","Cry","His","Muc","Pne","Oth","Uns"],"range":["square","triangle-up","diamond","circle","circle","square","triangle-down","diamond","circle"]},"legend":null},
     "fill":{"field":"s","type":"nominal","scale":{"domain":["Asp","Can","Coc","Cry","His","Muc","Pne","Oth","Uns"],"range":["#ffffff","#111111","#a8a8a8","#ffffff","#111111","#8a8a8a","#ffffff","#111111","#8c8c8c"]},"legend":null},
     "stroke":{"field":"s","type":"nominal","scale":{"domain":["Asp","Can","Coc","Cry","His","Muc","Pne","Oth","Uns"],"range":["#6e6e6e","#111111","#505050","#6e6e6e","#111111","#4a4a4a","#6e6e6e","#111111","#555555"]},"legend":null},
     "size":{"field":"s","type":"ordinal","scale":{"domain":["Asp","Can","Coc","Cry","His","Muc","Pne","Oth","Uns"],"range":[30,26,30,26,30,36,30,18,32]},"legend":null}}},
   {"mark":{"type":"text","align":"left","baseline":"middle","fontSize":12.5,"font":"Liberation Sans","color":"#222222"},"encoding":{"x":{"datum":1.55,"type":"quantitative"},"text":{"field":"name"}}}
  ]}
]},
{"spacing":19,"hconcat":[
 {"width":275,"height":132,"title":{"text":"(B)","dx":-78,"offset":8},"data":{"name":"B"},
  "encoding":{
   "x":{"field":"yr","type":"quantitative","scale":{"domain":[1998.6,2018.4],"nice":false,"zero":false},"axis":{"values":[1999,2000,2001,2002,2003,2004,2005,2006,2007,2008,2009,2010,2011,2012,2013,2014,2015,2016,2017,2018],"format":"d","title":null,"labelAngle":-45,"labelAlign":"right","labelBaseline":"top","labelPadding":1,"labelOverlap":false,"labelFontSize":11,"labelBound":false}},
   "y":{"field":"v","type":"quantitative","scale":{"domain":[0,100],"nice":false},"axis":{"values":[0,20,40,60,80,100],"format":"d","title":["Rate of Fungal Diagnoses","per 100,000 Patients","with Diabetes"]}}},
  "layer":[
   {"mark":{"type":"line","strokeWidth":0.8,"color":"#5a5a5a"},"encoding":{"strokeDash":{"field":"s","type":"nominal","scale":{"domain":["Asp","Can","Coc","Cry","His","Muc","Pne","Oth","Uns"],"range":[[4,2],[1,1.5],[4,2,1,2],[4,2],[1,0],[4,2],[1,1.5],[3,2],[4,2]]},"legend":null}}},
   {"mark":{"type":"point","filled":true,"opacity":1,"strokeWidth":0.8},"encoding":{
     "shape":{"field":"s","type":"nominal","scale":{"domain":["Asp","Can","Coc","Cry","His","Muc","Pne","Oth","Uns"],"range":["square","triangle-up","diamond","circle","circle","square","triangle-down","diamond","circle"]},"legend":null},
     "fill":{"field":"s","type":"nominal","scale":{"domain":["Asp","Can","Coc","Cry","His","Muc","Pne","Oth","Uns"],"range":["#ffffff","#111111","#a8a8a8","#ffffff","#111111","#8a8a8a","#ffffff","#111111","#8c8c8c"]},"legend":null},
     "stroke":{"field":"s","type":"nominal","scale":{"domain":["Asp","Can","Coc","Cry","His","Muc","Pne","Oth","Uns"],"range":["#6e6e6e","#111111","#505050","#6e6e6e","#111111","#4a4a4a","#6e6e6e","#111111","#555555"]},"legend":null},
     "size":{"field":"s","type":"ordinal","scale":{"domain":["Asp","Can","Coc","Cry","His","Muc","Pne","Oth","Uns"],"range":[30,26,30,26,30,36,30,18,32]},"legend":null}}}
  ]},
 {"width":299,"height":132,"title":{"text":"(C)","dx":-56,"offset":8},"data":{"name":"C"},
  "encoding":{
   "x":{"field":"yr","type":"quantitative","scale":{"domain":[1998.6,2018.4],"nice":false,"zero":false},"axis":{"values":[1999,2000,2001,2002,2003,2004,2005,2006,2007,2008,2009,2010,2011,2012,2013,2014,2015,2016,2017,2018],"format":"d","title":null,"labelAngle":-45,"labelAlign":"right","labelBaseline":"top","labelPadding":1,"labelOverlap":false,"labelFontSize":11,"labelBound":false}},
   "y":{"field":"v","type":"quantitative","scale":{"domain":[0,7000],"nice":false},"axis":{"values":[0,1000,2000,3000,4000,5000,6000,7000],"format":"d","title":["Rate of Fungal Diagnoses","per 100,000 HIV Patients"]}}},
  "layer":[
   {"mark":{"type":"line","strokeWidth":0.8,"color":"#5a5a5a"},"encoding":{"strokeDash":{"field":"s","type":"nominal","scale":{"domain":["Asp","Can","Coc","Cry","His","Muc","Pne","Oth","Uns"],"range":[[4,2],[1,1.5],[4,2,1,2],[4,2],[1,0],[4,2],[1,1.5],[3,2],[4,2]]},"legend":null}}},
   {"mark":{"type":"point","filled":true,"opacity":1,"strokeWidth":0.8},"encoding":{
     "shape":{"field":"s","type":"nominal","scale":{"domain":["Asp","Can","Coc","Cry","His","Muc","Pne","Oth","Uns"],"range":["square","triangle-up","diamond","circle","circle","square","triangle-down","diamond","circle"]},"legend":null},
     "fill":{"field":"s","type":"nominal","scale":{"domain":["Asp","Can","Coc","Cry","His","Muc","Pne","Oth","Uns"],"range":["#ffffff","#111111","#a8a8a8","#ffffff","#111111","#8a8a8a","#ffffff","#111111","#8c8c8c"]},"legend":null},
     "stroke":{"field":"s","type":"nominal","scale":{"domain":["Asp","Can","Coc","Cry","His","Muc","Pne","Oth","Uns"],"range":["#6e6e6e","#111111","#505050","#6e6e6e","#111111","#4a4a4a","#6e6e6e","#111111","#555555"]},"legend":null},
     "size":{"field":"s","type":"ordinal","scale":{"domain":["Asp","Can","Coc","Cry","His","Muc","Pne","Oth","Uns"],"range":[30,26,30,26,30,36,30,18,32]},"legend":null}}}
  ]}
]},
{"spacing":24,"hconcat":[
 {"width":275,"height":132,"title":{"text":"(D)","dx":-78,"offset":0},"data":{"name":"D"},
  "encoding":{
   "x":{"field":"yr","type":"quantitative","scale":{"domain":[1998.6,2018.4],"nice":false,"zero":false},"axis":{"values":[1999,2000,2001,2002,2003,2004,2005,2006,2007,2008,2009,2010,2011,2012,2013,2014,2015,2016,2017,2018],"format":"d","title":null,"labelAngle":-45,"labelAlign":"right","labelBaseline":"top","labelPadding":1,"labelOverlap":false,"labelFontSize":11,"labelBound":false}},
   "y":{"field":"v","type":"quantitative","scale":{"domain":[0,400],"nice":false},"axis":{"values":[0,100,200,300,400],"format":"d","title":["Rate of Fungal Diagnoses","per 100,000 Patients","with Sepsis"]}}},
  "layer":[
   {"mark":{"type":"line","strokeWidth":0.8,"color":"#5a5a5a"},"encoding":{"strokeDash":{"field":"s","type":"nominal","scale":{"domain":["Asp","Can","Coc","Cry","His","Muc","Pne","Oth","Uns"],"range":[[4,2],[1,1.5],[4,2,1,2],[4,2],[1,0],[4,2],[1,1.5],[3,2],[4,2]]},"legend":null}}},
   {"mark":{"type":"point","filled":true,"opacity":1,"strokeWidth":0.8},"encoding":{
     "shape":{"field":"s","type":"nominal","scale":{"domain":["Asp","Can","Coc","Cry","His","Muc","Pne","Oth","Uns"],"range":["square","triangle-up","diamond","circle","circle","square","triangle-down","diamond","circle"]},"legend":null},
     "fill":{"field":"s","type":"nominal","scale":{"domain":["Asp","Can","Coc","Cry","His","Muc","Pne","Oth","Uns"],"range":["#ffffff","#111111","#a8a8a8","#ffffff","#111111","#8a8a8a","#ffffff","#111111","#8c8c8c"]},"legend":null},
     "stroke":{"field":"s","type":"nominal","scale":{"domain":["Asp","Can","Coc","Cry","His","Muc","Pne","Oth","Uns"],"range":["#6e6e6e","#111111","#505050","#6e6e6e","#111111","#4a4a4a","#6e6e6e","#111111","#555555"]},"legend":null},
     "size":{"field":"s","type":"ordinal","scale":{"domain":["Asp","Can","Coc","Cry","His","Muc","Pne","Oth","Uns"],"range":[30,26,30,26,30,36,30,18,32]},"legend":null}}}
  ]},
 {"width":279,"height":132,"title":{"text":"(E)","dx":-73,"offset":0},"data":{"name":"E"},
  "encoding":{
   "x":{"field":"yr","type":"quantitative","scale":{"domain":[1998.6,2018.4],"nice":false,"zero":false},"axis":{"values":[1999,2000,2001,2002,2003,2004,2005,2006,2007,2008,2009,2010,2011,2012,2013,2014,2015,2016,2017,2018],"format":"d","title":null,"labelAngle":-45,"labelAlign":"right","labelBaseline":"top","labelPadding":1,"labelOverlap":false,"labelFontSize":11,"labelBound":false}},
   "y":{"field":"v","type":"quantitative","scale":{"domain":[0,4000],"nice":false},"axis":{"values":[0,1000,2000,3000,4000],"format":"d","title":["Rate of Fungal Diagnoses","per 100,000 Patients with","Transplant Complications"]}}},
  "layer":[
   {"mark":{"type":"line","strokeWidth":0.8,"color":"#5a5a5a"},"encoding":{"strokeDash":{"field":"s","type":"nominal","scale":{"domain":["Asp","Can","Coc","Cry","His","Muc","Pne","Oth","Uns"],"range":[[4,2],[1,1.5],[4,2,1,2],[4,2],[1,0],[4,2],[1,1.5],[3,2],[4,2]]},"legend":null}}},
   {"mark":{"type":"point","filled":true,"opacity":1,"strokeWidth":0.8},"encoding":{
     "shape":{"field":"s","type":"nominal","scale":{"domain":["Asp","Can","Coc","Cry","His","Muc","Pne","Oth","Uns"],"range":["square","triangle-up","diamond","circle","circle","square","triangle-down","diamond","circle"]},"legend":null},
     "fill":{"field":"s","type":"nominal","scale":{"domain":["Asp","Can","Coc","Cry","His","Muc","Pne","Oth","Uns"],"range":["#ffffff","#111111","#a8a8a8","#ffffff","#111111","#8a8a8a","#ffffff","#111111","#8c8c8c"]},"legend":null},
     "stroke":{"field":"s","type":"nominal","scale":{"domain":["Asp","Can","Coc","Cry","His","Muc","Pne","Oth","Uns"],"range":["#6e6e6e","#111111","#505050","#6e6e6e","#111111","#4a4a4a","#6e6e6e","#111111","#555555"]},"legend":null},
     "size":{"field":"s","type":"ordinal","scale":{"domain":["Asp","Can","Coc","Cry","His","Muc","Pne","Oth","Uns"],"range":[30,26,30,26,30,36,30,18,32]},"legend":null}}}
  ]}
]}
]
}
